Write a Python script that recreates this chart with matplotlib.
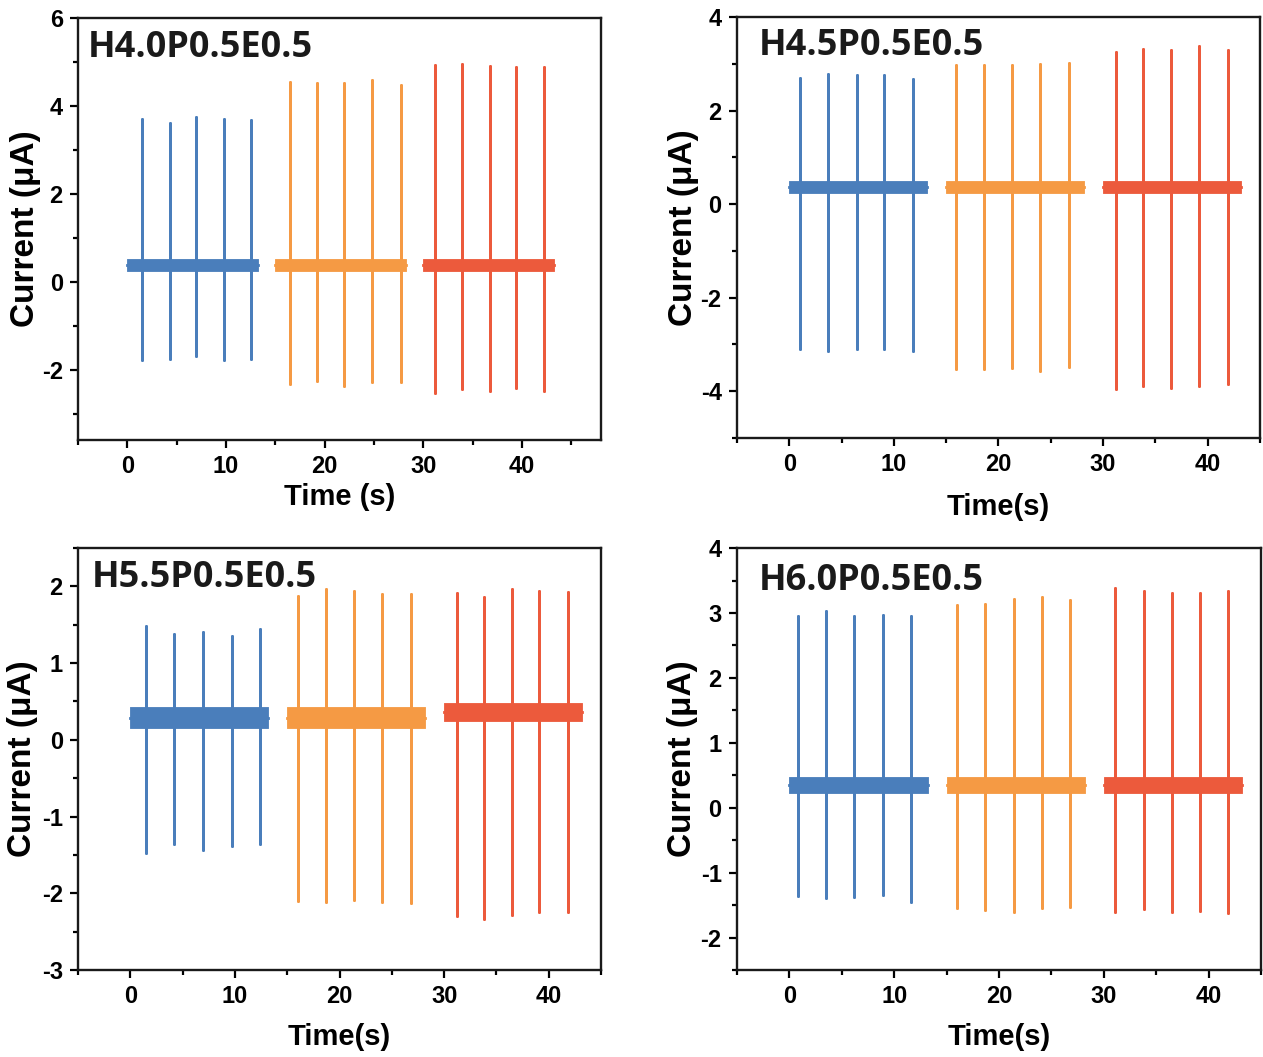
import matplotlib
matplotlib.use("Agg")
import matplotlib.pyplot as plt
from matplotlib.ticker import MultipleLocator
import numpy as np

plt.rcParams["font.family"] = ["Liberation Sans", "DejaVu Sans"]
plt.rcParams["font.weight"] = "bold"
plt.rcParams["axes.unicode_minus"] = False

RUN_COLORS = ["#4a7ebb", "#f59a44", "#ec5a3c"]

# recording windows (s) for the three runs in every panel
SEG_START = [0.0, 15.0, 30.0]
SEG_END = [13.2, 28.2, 43.2]

# H4.0P0.5E0.5
H40_SPIKE_T = [[1.5, 4.3, 7.0, 9.8, 12.5], [16.5, 19.2, 22.0, 24.8, 27.7], [31.2, 33.9, 36.7, 39.4, 42.2]]
H40_PEAK = [[3.71, 3.62, 3.75, 3.70, 3.68], [4.54, 4.52, 4.52, 4.60, 4.47], [4.94, 4.95, 4.92, 4.89, 4.89]]
H40_TROUGH = [[-1.79, -1.75, -1.68, -1.77, -1.75], [-2.32, -2.26, -2.36, -2.29, -2.29], [-2.53, -2.45, -2.49, -2.41, -2.49]]
H40_BASE = [0.38, 0.38, 0.38]
H40_NOISE = [0.13, 0.13, 0.13]

# H4.5P0.5E0.5
H45_SPIKE_T = [[1.0, 3.7, 6.5, 9.1, 11.8], [15.9, 18.6, 21.3, 24.0, 26.7], [31.2, 33.8, 36.5, 39.2, 41.9]]
H45_PEAK = [[2.70, 2.78, 2.77, 2.75, 2.68], [2.98, 2.97, 2.98, 3.00, 3.01], [3.26, 3.31, 3.30, 3.39, 3.30]]
H45_TROUGH = [[-3.09, -3.13, -3.09, -3.09, -3.14], [-3.53, -3.53, -3.50, -3.57, -3.48], [-3.95, -3.89, -3.92, -3.89, -3.84]]
H45_BASE = [0.37, 0.37, 0.37]
H45_NOISE = [0.13, 0.13, 0.13]

# H5.5P0.5E0.5
H55_SPIKE_T = [[1.5, 4.2, 6.9, 9.7, 12.4], [16.0, 18.7, 21.4, 24.1, 26.8], [31.2, 33.8, 36.5, 39.1, 41.8]]
H55_PEAK = [[1.49, 1.38, 1.41, 1.35, 1.45], [1.87, 1.96, 1.94, 1.90, 1.90], [1.92, 1.86, 1.97, 1.94, 1.93]]
H55_TROUGH = [[-1.47, -1.36, -1.43, -1.38, -1.36], [-2.10, -2.11, -2.09, -2.11, -2.13], [-2.29, -2.33, -2.28, -2.25, -2.25]]
H55_BASE = [0.29, 0.29, 0.36]
H55_NOISE = [0.14, 0.14, 0.12]

# H6.0P0.5E0.5
H60_SPIKE_T = [[0.8, 3.5, 6.2, 8.9, 11.6], [16.0, 18.7, 21.4, 24.1, 26.8], [31.1, 33.8, 36.5, 39.2, 41.9]]
H60_PEAK = [[2.95, 3.03, 2.95, 2.97, 2.95], [3.12, 3.14, 3.21, 3.24, 3.20], [3.38, 3.34, 3.30, 3.30, 3.34]]
H60_TROUGH = [[-1.36, -1.39, -1.37, -1.34, -1.46], [-1.54, -1.57, -1.60, -1.54, -1.53], [-1.61, -1.56, -1.61, -1.59, -1.62]]
H60_BASE = [0.35, 0.35, 0.35]
H60_NOISE = [0.13, 0.13, 0.13]

PANELS = [
    dict(name="H4.0P0.5E0.5", t=H40_SPIKE_T, peak=H40_PEAK, trough=H40_TROUGH, base=H40_BASE, noise=H40_NOISE,
         rect=[0.0618, 0.5837, 0.4141, 0.3992], xlim=(-5, 48), ylim=(-3.6, 6), ymaj=2, ymin=1,
         xlabel="Time (s)", xlab_y=-0.135, ylab_x=-0.101, title_xy=(0.019, 0.929)),
    dict(name="H4.5P0.5E0.5", t=H45_SPIKE_T, peak=H45_PEAK, trough=H45_TROUGH, base=H45_BASE, noise=H45_NOISE,
         rect=[0.5835, 0.5856, 0.4141, 0.3983], xlim=(-5, 45), ylim=(-5, 4), ymaj=2, ymin=1,
         xlabel="Time(s)", xlab_y=-0.164, ylab_x=-0.103, title_xy=(0.042, 0.932)),
    dict(name="H5.5P0.5E0.5", t=H55_SPIKE_T, peak=H55_PEAK, trough=H55_TROUGH, base=H55_BASE, noise=H55_NOISE,
         rect=[0.0618, 0.0823, 0.4141, 0.3992], xlim=(-5, 45), ylim=(-3, 2.5), ymaj=1, ymin=0.5,
         xlabel="Time(s)", xlab_y=-0.159, ylab_x=-0.107, title_xy=(0.027, 0.929)),
    dict(name="H6.0P0.5E0.5", t=H60_SPIKE_T, peak=H60_PEAK, trough=H60_TROUGH, base=H60_BASE, noise=H60_NOISE,
         rect=[0.5835, 0.0823, 0.4149, 0.3992], xlim=(-5, 45), ylim=(-2.5, 4), ymaj=1, ymin=0.5,
         xlabel="Time(s)", xlab_y=-0.159, ylab_x=-0.103, title_xy=(0.042, 0.921)),
]


def trace(t0, t1, base, spike_t, peak, trough):
    # baseline with each pulse drawn as a vertical excursion peak -> trough
    xs, ys = [t0], [base]
    for ts, hi, lo in zip(spike_t, peak, trough):
        xs += [ts, ts, ts, ts]
        ys += [base, hi, lo, base]
    xs.append(t1)
    ys.append(base)
    return np.array(xs), np.array(ys)


fig = plt.figure(figsize=(12.63, 10.57), dpi=100)

for p in PANELS:
    ax = fig.add_axes(p["rect"])
    for i, color in enumerate(RUN_COLORS):
        t0, t1 = SEG_START[i], SEG_END[i]
        b, n = p["base"][i], p["noise"][i]
        ax.fill_between([t0, t1], b - n, b + n, color=color, lw=0.6, edgecolor=color)
        xs, ys = trace(t0, t1, b, p["t"][i], p["peak"][i], p["trough"][i])
        ax.plot(xs, ys, color=color, lw=2.0)

    ax.set_xlim(*p["xlim"])
    ax.set_ylim(*p["ylim"])
    ax.xaxis.set_major_locator(MultipleLocator(10))
    ax.xaxis.set_minor_locator(MultipleLocator(5))
    ax.yaxis.set_major_locator(MultipleLocator(p["ymaj"]))
    ax.yaxis.set_minor_locator(MultipleLocator(p["ymin"]))
    ax.tick_params(which="both", direction="out", width=1.6, labelsize=17, pad=5)
    ax.tick_params(which="major", length=6)
    ax.tick_params(which="minor", length=3.5)
    for lab in ax.get_xticklabels() + ax.get_yticklabels():
        lab.set_fontweight("bold")
    for s in ax.spines.values():
        s.set_linewidth(1.7)
        s.set_color("#1a1a1a")

    ax.set_xlabel(p["xlabel"], fontsize=21, fontweight="bold", va="center")
    ax.xaxis.set_label_coords(0.5, p["xlab_y"])
    ax.set_ylabel("Current (\u03bcA)", fontsize=24, fontweight="bold", va="center")
    ax.yaxis.set_label_coords(p["ylab_x"], 0.5)

    ax.text(p["title_xy"][0], p["title_xy"][1], p["name"], transform=ax.transAxes,
            fontsize=26, fontweight="bold", family=["Open Sans", "DejaVu Sans"],
            ha="left", va="center", color="#1a1a1a")

fig.savefig("out.png", dpi=100)
